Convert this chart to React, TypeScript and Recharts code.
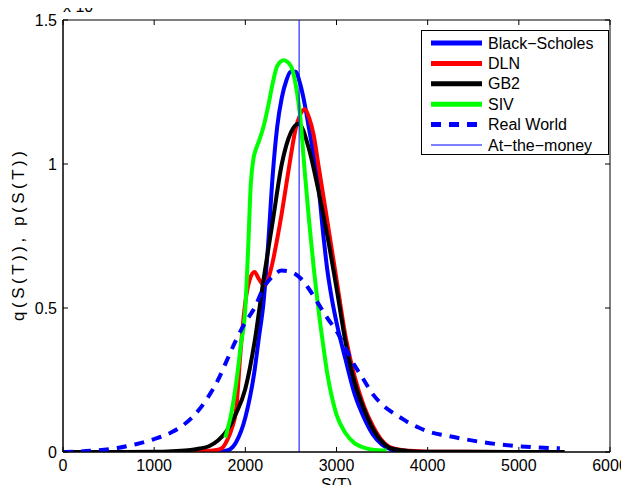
import React from "react";
import { LineChart, Line, XAxis, YAxis, Legend, ReferenceLine, ReferenceArea, Label } from "recharts";

// axis ticks (density values are in units of 1e-3)
const xTicks = [0, 1000, 2000, 3000, 4000, 5000, 6000];
const yTicks = [0, 0.5, 1, 1.5];
const atTheMoney = 2590;

// Black-Scholes
const bsX = [0, 1000, 1500, 1700, 1800, 1900, 2000, 2100, 2150, 2200, 2250, 2300, 2350, 2400, 2450, 2500, 2550, 2600, 2650, 2700, 2750, 2800, 2850, 2900, 2950, 3000, 3100, 3200, 3300, 3400, 3500, 3600, 3700, 3800, 4500, 5500];
const bsY = [0, 0, 0, 0.001, 0.005, 0.035, 0.12, 0.28, 0.4, 0.52, 0.72, 0.96, 1.13, 1.23, 1.29, 1.32, 1.32, 1.28, 1.21, 1.12, 1.03, 0.93, 0.77, 0.63, 0.53, 0.45, 0.32, 0.2, 0.12, 0.06, 0.025, 0.008, 0.002, 0, 0, 0];

// DLN
const dlnX = [0, 1000, 1500, 1600, 1700, 1750, 1800, 1850, 1900, 1950, 2000, 2050, 2100, 2150, 2200, 2250, 2300, 2350, 2400, 2450, 2500, 2550, 2600, 2650, 2700, 2750, 2800, 2850, 2900, 3000, 3100, 3200, 3300, 3400, 3500, 3600, 3800, 4000, 5500];
const dlnY = [0, 0, 0.002, 0.004, 0.008, 0.015, 0.04, 0.08, 0.15, 0.36, 0.52, 0.6, 0.625, 0.6, 0.58, 0.6, 0.66, 0.74, 0.83, 0.93, 1.03, 1.12, 1.17, 1.19, 1.16, 1.1, 1.0, 0.9, 0.8, 0.6, 0.4, 0.26, 0.16, 0.09, 0.04, 0.015, 0.004, 0.001, 0];

// GB2
const gb2X = [0, 500, 1000, 1200, 1400, 1500, 1600, 1700, 1800, 1900, 2000, 2100, 2200, 2300, 2400, 2500, 2585, 2700, 2800, 2900, 3000, 3100, 3200, 3300, 3400, 3500, 3600, 3800, 4000, 5500];
const gb2Y = [0, 0, 0.001, 0.003, 0.007, 0.012, 0.02, 0.04, 0.075, 0.135, 0.22, 0.38, 0.6, 0.8, 1.0, 1.11, 1.14, 1.05, 0.91, 0.75, 0.57, 0.38, 0.24, 0.15, 0.08, 0.035, 0.012, 0.003, 0.001, 0];

// SIV
const sivX = [1780, 1850, 1900, 1950, 2000, 2030, 2060, 2090, 2120, 2150, 2200, 2250, 2300, 2350, 2420, 2500, 2550, 2600, 2650, 2700, 2750, 2800, 2850, 2900, 2950, 3000, 3100, 3200, 3300, 3400, 3550];
const sivY = [0.05, 0.14, 0.24, 0.37, 0.5, 0.7, 0.93, 1.02, 1.055, 1.08, 1.13, 1.2, 1.28, 1.34, 1.36, 1.34, 1.28, 1.17, 0.98, 0.8, 0.64, 0.5, 0.38, 0.27, 0.19, 0.13, 0.065, 0.03, 0.015, 0.008, 0.005];

// Real World
const realX = [0, 300, 600, 800, 1000, 1200, 1400, 1500, 1600, 1700, 1800, 1900, 2000, 2100, 2200, 2300, 2400, 2500, 2600, 2700, 2800, 2900, 3000, 3100, 3200, 3300, 3400, 3500, 3600, 3700, 3800, 3900, 4000, 4200, 4400, 4600, 4800, 5000, 5200, 5450];
const realY = [0, 0.004, 0.014, 0.027, 0.045, 0.07, 0.115, 0.15, 0.195, 0.25, 0.32, 0.39, 0.45, 0.5, 0.57, 0.61, 0.63, 0.625, 0.605, 0.565, 0.515, 0.465, 0.42, 0.36, 0.3, 0.25, 0.2, 0.165, 0.14, 0.12, 0.1, 0.085, 0.072, 0.057, 0.045, 0.034, 0.026, 0.02, 0.016, 0.013];

const toPoints = (xs: number[], ys: number[]) => xs.map((s, i) => ({ s, q: ys[i] }));

const FONT = "'Liberation Sans', Arial, sans-serif";
const FS = 16;

// chart layout
const W = 621;
const H = 485;
const M = { top: 12, right: 19, bottom: 0, left: 0 };
const Y_AXIS_W = 55;
const X_AXIS_H = 41;
const PLOT_TOP = M.top;
const PLOT_RIGHT = W - M.right;
const X_GAP = 8;
const Y_GAP = 6;
const TICK = 5;

const series = [
  { name: "Black\u2212Scholes", color: "#0000ff", width: 4, dash: undefined, data: toPoints(bsX, bsY) },
  { name: "DLN", color: "#ff0000", width: 4, dash: undefined, data: toPoints(dlnX, dlnY) },
  { name: "GB2", color: "#000000", width: 4, dash: undefined, data: toPoints(gb2X, gb2Y) },
  { name: "SIV", color: "#00ff00", width: 4, dash: undefined, data: toPoints(sivX, sivY) },
  { name: "Real World", color: "#0000ff", width: 4, dash: "10 8", data: toPoints(realX, realY) },
];

const legendItems = [
  ...series.map((s) => ({ name: s.name, color: s.color, width: 5, dash: s.dash })),
  { name: "At\u2212the\u2212money", color: "#0000ff", width: 1, dash: undefined },
];

const ChartLegend = () => (
  <svg width={188} height={125} style={{ display: "block" }}>
    <rect x={0.5} y={0.5} width={187} height={124} fill="#fff" stroke="#000" />
    {legendItems.map((it, i) => {
      const y = 13 + i * 20.4;
      return (
        <g key={it.name}>
          <line x1={10} x2={61} y1={y} y2={y} stroke={it.color} strokeWidth={it.width} strokeDasharray={it.dash} />
          <text x={67} y={y} dominantBaseline="central" fontSize={FS} fontFamily={FONT} fill="#000">
            {it.name}
          </text>
        </g>
      );
    })}
  </svg>
);

// MATLAB style: ticks point inward, on both opposite sides of the box
const XTick = (props: any) => {
  const { x, y, payload } = props;
  const axisY = y - X_GAP;
  return (
    <g>
      <line x1={x} x2={x} y1={axisY} y2={axisY - TICK} stroke="#000" />
      <line x1={x} x2={x} y1={PLOT_TOP} y2={PLOT_TOP + TICK} stroke="#000" />
      <text x={x} y={y} dy="0.71em" textAnchor="middle" fontSize={FS} fontFamily={FONT} fill="#000">
        {payload.value}
      </text>
    </g>
  );
};

const YTick = (props: any) => {
  const { x, y, payload } = props;
  const axisX = x + Y_GAP;
  return (
    <g>
      <line x1={axisX} x2={axisX + TICK} y1={y} y2={y} stroke="#000" />
      <line x1={PLOT_RIGHT} x2={PLOT_RIGHT - TICK} y1={y} y2={y} stroke="#000" />
      <text x={x} y={y} textAnchor="end" dominantBaseline="central" fontSize={FS} fontFamily={FONT} fill="#000">
        {payload.value}
      </text>
    </g>
  );
};

export default function App() {
  return (
    <div style={{ position: "relative", width: W, height: H, marginBottom: -8, overflow: "hidden" }}>
      <LineChart width={W} height={H} margin={M}>
        <ReferenceArea x1={0} x2={6000} y1={0} y2={1.5} fill="none" stroke="#000" strokeWidth={1} />
        <XAxis
          dataKey="s"
          type="number"
          domain={[0, 6000]}
          ticks={xTicks}
          allowDataOverflow
          height={X_AXIS_H}
          tickSize={0}
          tickMargin={X_GAP}
          tickLine={false}
          stroke="#000"
          tick={<XTick />}
        >
          <Label
            content={(props: any) => {
              const vb = props.viewBox;
              return (
                <text x={vb.x + vb.width / 2} y={vb.y + 37.5} textAnchor="middle" fontSize={FS} fontFamily={FONT} fill="#000">
                  S(T)
                </text>
              );
            }}
          />
        </XAxis>
        <YAxis
          type="number"
          domain={[0, 1.5]}
          ticks={yTicks}
          allowDataOverflow
          width={Y_AXIS_W}
          tickSize={0}
          tickMargin={Y_GAP}
          tickLine={false}
          stroke="#000"
          tick={<YTick />}
        >
          <Label
            content={(props: any) => {
              const vb = props.viewBox;
              const cx = vb.x + 10;
              const cy = vb.y + vb.height / 2;
              return (
                <text
                  x={cx}
                  y={cy}
                  transform={`rotate(-90, ${cx}, ${cy})`}
                  textAnchor="middle"
                  dominantBaseline="central"
                  fontSize={17}
                  textLength={170}
                  lengthAdjust="spacing"
                  fontFamily={FONT}
                  fill="#000"
                >
                  q(S(T)), p(S(T))
                </text>
              );
            }}
          />
        </YAxis>
        {series.map((s) => (
          <Line
            key={s.name}
            data={s.data}
            dataKey="q"
            name={s.name}
            type="monotone"
            stroke={s.color}
            strokeWidth={s.width}
            strokeDasharray={s.dash}
            dot={false}
            activeDot={false}
            isAnimationActive={false}
          />
        ))}
        <ReferenceLine x={atTheMoney} stroke="#0000ff" strokeWidth={1} />
        <Legend
          layout="vertical"
          align="center"
          verticalAlign="middle"
          content={<ChartLegend />}
          wrapperStyle={{ left: 413, top: 22, width: 188, height: 125 }}
        />
      </LineChart>
      <svg width={140} height={20} style={{ position: "absolute", left: 0, top: 0 }}>
        <text x={55} y={4} fontSize={FS} fontFamily={FONT} fill="#000">
          x 10<tspan dy={-6} fontSize={11}>{"\u22123"}</tspan>
        </text>
      </svg>
    </div>
  );
}
